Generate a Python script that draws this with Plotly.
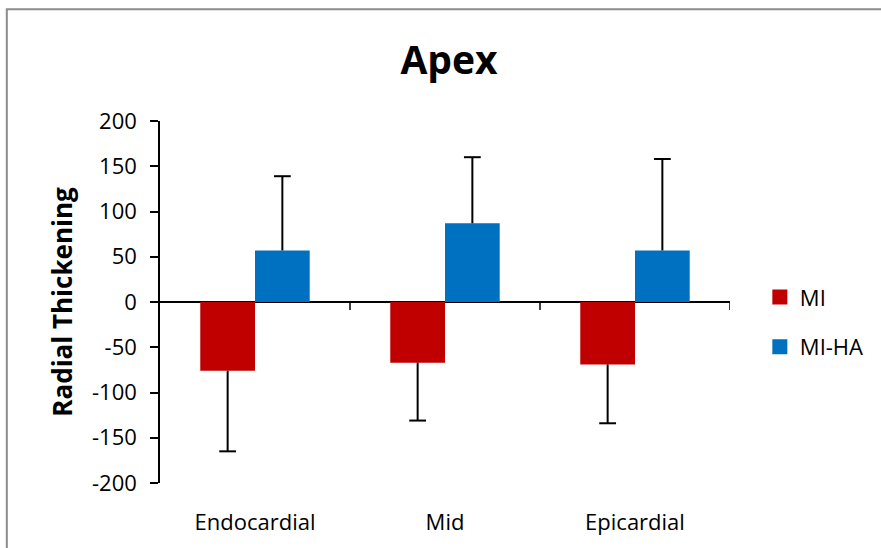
import plotly.graph_objects as go

# ---- data ----
categories = ["Endocardial", "Mid", "Epicardial"]
mi_values = [-76, -67, -69]
mi_errors = [89, 64, 65]
miha_values = [57, 87, 57]
miha_errors = [82, 73, 101]
y_ticks = [200, 150, 100, 50, 0, -50, -100, -150, -200]
y_tick_labels = [str(v) for v in y_ticks]  # plain hyphen minus

RED = "#C00000"
BLUE = "#0070C0"
FONT = "Open Sans"

W, H = 881, 548
ML, MR, MT, MB = 160, 148, 121, 61
PW, PH = W - ML - MR, H - MT - MB

bar_w = 0.288
xs = list(range(len(categories)))

fig = go.Figure()

def add_series(name, vals, errs, color, offset):
    fig.add_trace(go.Bar(
        x=xs, y=vals, name=name, width=bar_w, offset=offset,
        marker=dict(color=color, line=dict(width=0)),
        showlegend=False,
    ))
    centers = [x + offset + bar_w / 2 for x in xs]
    ends = [v + e if v >= 0 else v - e for v, e in zip(vals, errs)]
    lx, ly = [], []
    for cx, v, end in zip(centers, vals, ends):
        lx += [cx, cx, None]
        ly += [v, end, None]
    fig.add_trace(go.Scatter(
        x=lx, y=ly, mode="lines", line=dict(color="black", width=2),
        showlegend=False, hoverinfo="skip",
    ))
    fig.add_trace(go.Scatter(
        x=centers, y=ends, mode="markers",
        marker=dict(symbol="line-ew", size=12, line=dict(color="black", width=2)),
        showlegend=False, hoverinfo="skip",
    ))
    # legend entry (square swatch)
    fig.add_trace(go.Scatter(
        x=[None], y=[None], mode="markers", name=name, legendgroup=name,
        marker=dict(symbol="square", size=15, color=color, line=dict(width=0)),
    ))

add_series("MI", mi_values, mi_errors, RED, -bar_w)
add_series("MI-HA", miha_values, miha_errors, BLUE, 0)

shapes = []
# category boundary ticks on the zero line
for x in xs:
    shapes.append(dict(type="line", xref="x", yref="y", ysizemode="pixel",
                       yanchor=0, x0=x + 0.5, x1=x + 0.5, y0=0, y1=-8,
                       line=dict(color="black", width=1.5)))
# outer chart border
shapes.append(dict(type="rect", xref="paper", yref="paper",
                   x0=(6 - ML) / PW, x1=(W + 10 - ML) / PW,
                   y0=(PH + MT - (H + 10)) / PH, y1=(PH + MT - 8) / PH,
                   line=dict(color="#8c8c8c", width=2), fillcolor="rgba(0,0,0,0)",
                   layer="below"))

fig.update_layout(
    width=W, height=H,
    margin=dict(l=ML, r=MR, t=MT, b=MB, pad=0),
    paper_bgcolor="white", plot_bgcolor="white",
    barmode="overlay",
    font=dict(family=FONT, size=22, color="black"),
    title=dict(text="<b>Apex</b>", x=449 / W, xanchor="center",
               y=1 - 60 / H, yanchor="middle", yref="container",
               font=dict(family=FONT, size=39, color="black")),
    xaxis=dict(range=[-0.5, len(categories) - 0.5], tickvals=xs, ticktext=categories,
               showline=False, zeroline=False, showgrid=False,
               ticks="outside", ticklen=20, tickcolor="rgba(0,0,0,0)",
               tickfont=dict(size=22)),
    yaxis=dict(range=[-200, 200], tickvals=y_ticks, ticktext=y_tick_labels,
               showgrid=False,
               showline=True, linecolor="black", linewidth=1.5,
               ticks="outside", ticklen=8, tickwidth=1.5, tickcolor="black",
               zeroline=True, zerolinecolor="black", zerolinewidth=1.5,
               ticklabelstandoff=9,
               title=dict(text="<b>Radial Thickening</b>", standoff=12,
                          font=dict(size=26))),
    legend=dict(x=(763 - ML) / PW, xanchor="left", y=(PH + MT - 324.5) / PH,
                yanchor="middle", traceorder="grouped", tracegroupgap=18,
                font=dict(size=22), bgcolor="rgba(0,0,0,0)"),
    shapes=shapes,
    showlegend=True,
)

fig.write_html("out.html")
